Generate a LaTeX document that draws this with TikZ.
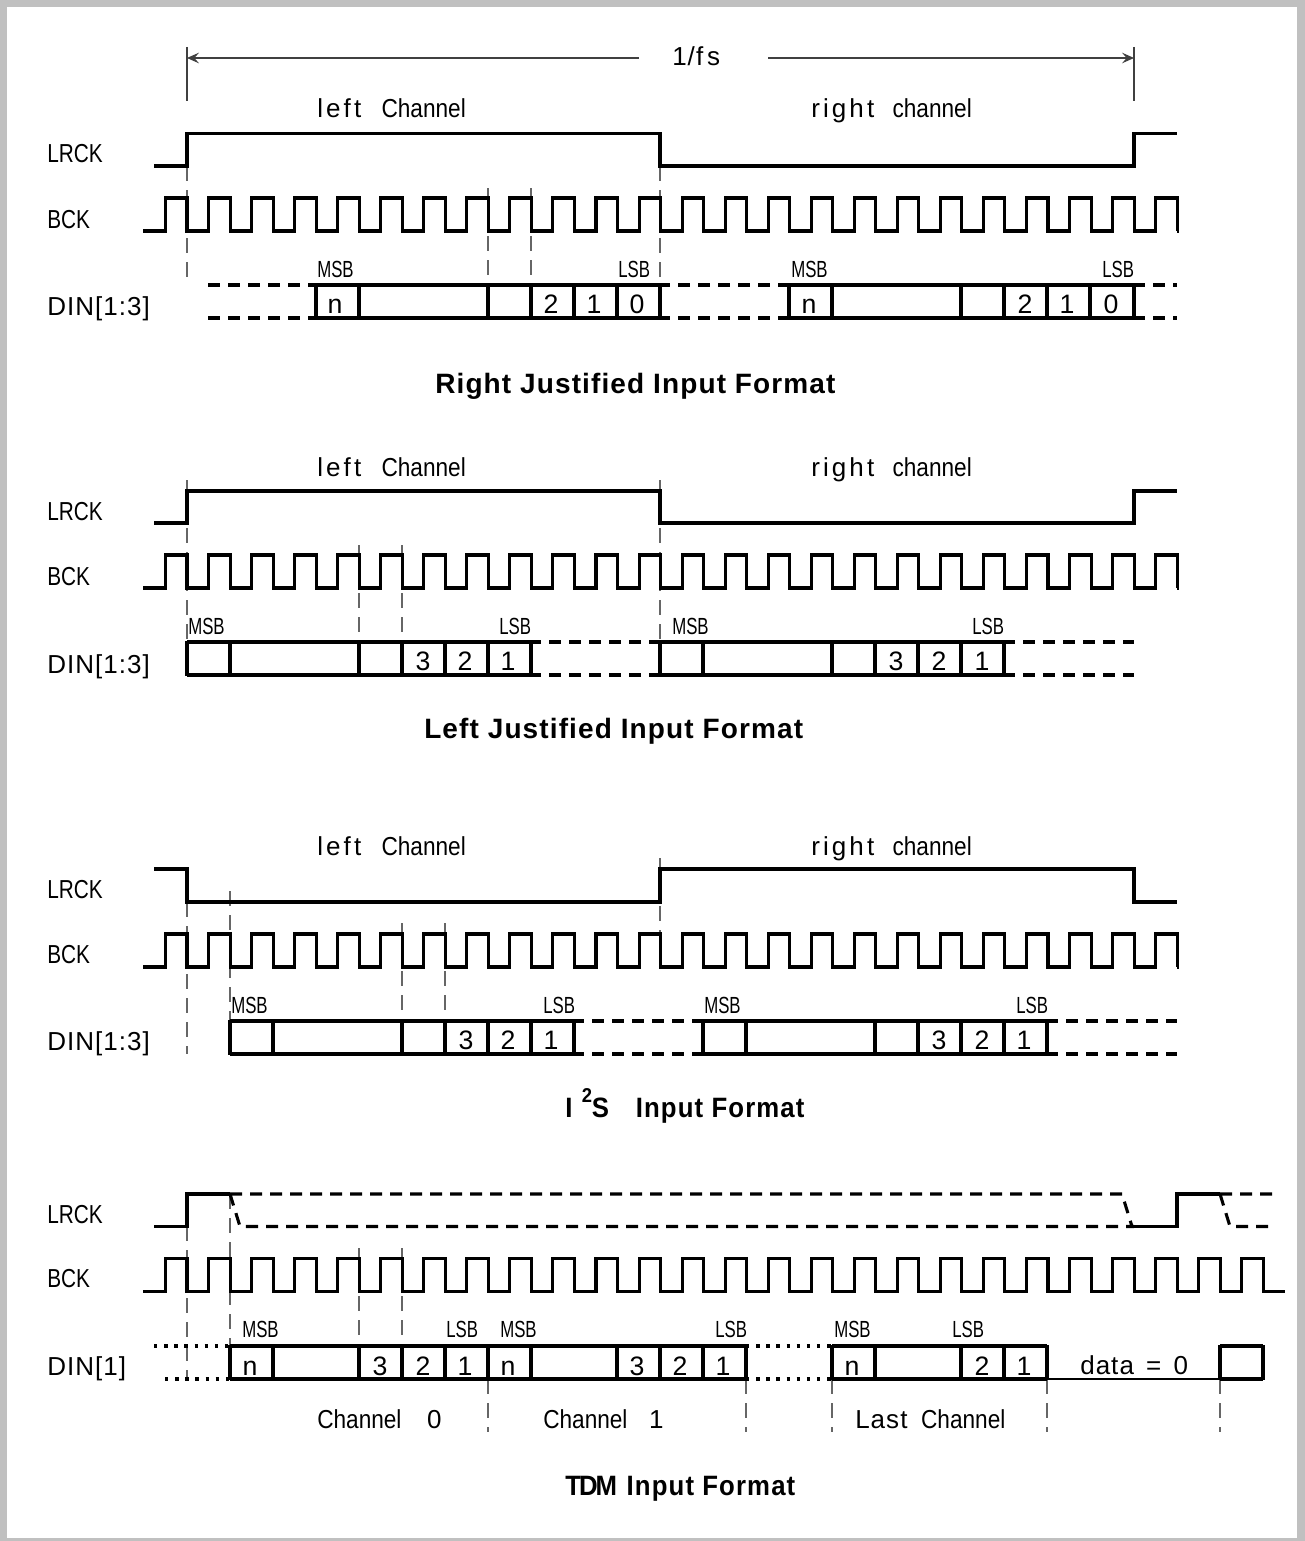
\documentclass[tikz,border=0pt]{standalone}
\usepackage{fontspec}
\usepackage{tikz}
\usetikzlibrary{arrows.meta}
\newfontfamily\sigfont[FakeStretch=0.8]{Liberation Sans}
\newfontfamily\bitfont[FakeStretch=0.72]{Liberation Sans}
\newfontfamily\chanfont[FakeStretch=0.87]{Liberation Sans}
\newfontfamily\widefont[LetterSpace=12]{Liberation Sans}
\newfontfamily\wordfont[LetterSpace=4]{Liberation Sans}
\newfontfamily\tightfont[FakeStretch=0.92,LetterSpace=4]{Liberation Sans}
\definecolor{framegray}{HTML}{C0C0C0}

\tikzset{
    sig/.style={line width=2.3pt, black},
    sigdash/.style={sig, dash pattern=on 9pt off 6pt},
    sigafter/.style={sigdash, dash phase=9pt},
    sigdot/.style={sig, dash pattern=on 2.6pt off 5pt},
    guide/.style={line width=0.8pt, black!60, dash pattern=on 11pt off 7pt},
    pin/.style={inner sep=0pt, anchor=base west, font=\sigfont\fontsize{19.5}{22}\selectfont},
    bitlab/.style={inner sep=0pt, anchor=base west, font=\bitfont\fontsize{17.5}{20}\selectfont},
    word/.style={inner sep=0pt, anchor=base west, font=\wordfont\fontsize{19.5}{22}\selectfont},
    digit/.style={inner sep=0pt, anchor=base, font=\wordfont\fontsize{20}{22}\selectfont},
    heading/.style={inner sep=0pt, anchor=base west, font=\wordfont\bfseries\fontsize{21}{24}\selectfont},
    headingtight/.style={heading, font=\tightfont\bfseries\fontsize{21}{24}\selectfont},
}

\newcommand{\leftchan}{{\widefont left} \hspace{9pt}{\chanfont Channel}}
\newcommand{\rightchan}{{\widefont right} \hspace{7.5pt}{\chanfont channel}}

% #1 high level, #2 number of pulses, #3 end of the tail
\newcommand{\bckwave}[3]{
    \draw[sig, line join=miter] (143,#1+33)
        \foreach \k in {1,...,#2} { -- (165.5+43.05*\k-43.05,#1+33) -- (165.5+43.05*\k-43.05,#1) -- (187+43.05*\k-43.05,#1) -- (187+43.05*\k-43.05,#1+33) }
        -- (#3,#1+33);
}
% #1 x from, #2 x to, #3 top y, #4 ticks
\newcommand{\cellrow}[4]{
    \draw[sig] (#1,#3) -- (#2,#3) (#1,#3+33) -- (#2,#3+33);
    \foreach \x in {#4} \draw[sig] (\x,#3-1) -- (\x,#3+34);
}
\newcommand{\guides}[3]{
    \foreach \x in {#3} \draw[guide] (\x,#1) -- (\x,#2);
}
% #1 baseline, #2 list of x/text
\newcommand{\cellnums}[2]{
    \foreach \x/\t in {#2} \node[digit] (num#1-\x) at (\x,#1) {\t};
}
\newcommand{\bitnames}[2]{
    \foreach \x/\t in {#2} \node[bitlab] (bit#1-\x) at (\x,#1) {\t};
}

\begin{document}
\begin{tikzpicture}[x=0.75pt, y=-0.75pt]
    \useasboundingbox (0,0) rectangle (1305,1541);
    \fill[framegray] (0,0) rectangle (1305,1541);
    \fill[white] (7,7) rectangle (1297,1537.5);

    % right justified
    \coordinate (fsleft) at (187,58);
    \coordinate (fsright) at (1134,58);
    \coordinate (fsgapl) at (639,58);
    \coordinate (fsgapr) at (768,58);
    \node[word] (fs) at (672,66) {1/f\kern3pt s};
    \draw[black!75, line width=0.8pt, >={Stealth[length=9pt,width=8pt,inset=3.5pt]}] (fsgapl) edge[->] (fsleft) (fsgapr) edge[->] (fsright);
    \draw[black!75, line width=0.8pt] (187,47) -- (187,101) (1134,47) -- (1134,101);

    \node[word] (leftA) at (317,118) {\leftchan};
    \node[word] (rightA) at (811,118) {\rightchan};
    \node[pin] (lrckA) at (47,163) {LRCK};
    \node[pin] (bckA) at (47,228) {BCK};
    \node[word] (dinA) at (47,315) {DIN[1:3]};
    \guides{166}{285}{187,660}
    \guides{188}{285}{488,531}
    \draw[sig] (154,166) -- (187,166) -- (187,133.5) -- (660,133.5) -- (660,166) -- (1134,166) -- (1134,133.5) -- (1177,133.5);
    \bckwave{198}{24}{1177}
    \draw[sigdash] (208,285) -- (316,285) (208,318) -- (316,318);
    \draw[sigafter] (670,285) -- (789,285) (670,318) -- (789,318);
    \draw[sigafter] (1145,285) -- (1177,285) (1145,318) -- (1177,318);
    \cellrow{316}{670}{285}{316,359,488,531,574,617,660}
    \cellrow{789}{1145}{285}{789,832,961,1004,1047,1090,1134}
    \cellnums{313}{335/n,551/2,594/1,637/0,809/n,1025/2,1067/1,1111/0}
    \bitnames{277}{317/MSB,618/LSB,791/MSB,1102/LSB}
    \node[heading] (titleA) at (435,393) {Right Justified Input Format};

    % left justified
    \node[word] (leftB) at (317,476) {\leftchan};
    \node[word] (rightB) at (811,476) {\rightchan};
    \node[pin] (lrckB) at (47,520) {LRCK};
    \node[pin] (bckB) at (47,585) {BCK};
    \node[word] (dinB) at (47,673) {DIN[1:3]};
    \guides{480}{642}{187,660}
    \guides{545}{642}{359,402}
    \draw[sig] (154,523) -- (187,523) -- (187,491) -- (660,491) -- (660,523) -- (1134,523) -- (1134,491) -- (1177,491);
    \bckwave{555}{24}{1177}
    \draw[sigafter] (541,642) -- (660,642) (541,675) -- (660,675);
    \draw[sigafter] (1015,642) -- (1134,642) (1015,675) -- (1134,675);
    \cellrow{187}{541}{642}{187,230,359,402,445,488,531}
    \cellrow{660}{1015}{642}{660,703,832,875,918,961,1004}
    \cellnums{670}{423/3,465/2,508/1,896/3,939/2,982/1}
    \bitnames{634}{188/MSB,499/LSB,672/MSB,972/LSB}
    \node[heading] (titleB) at (424,738) {Left Justified Input Format};

    % i2s
    \node[word] (leftC) at (317,855) {\leftchan};
    \node[word] (rightC) at (811,855) {\rightchan};
    \node[pin] (lrckC) at (47,898) {LRCK};
    \node[pin] (bckC) at (47,963) {BCK};
    \node[word] (dinC) at (47,1050) {DIN[1:3]};
    \guides{902}{1054}{187}
    \guides{891}{1021}{230}
    \guides{923}{1021}{402,445}
    \guides{858}{934}{660}
    \draw[sig] (154,869) -- (187,869) -- (187,902) -- (660,902) -- (660,869) -- (1134,869) -- (1134,902) -- (1177,902);
    \bckwave{934}{24}{1177}
    \draw[sigafter] (584,1021) -- (703,1021) (584,1054) -- (703,1054);
    \draw[sigafter] (1058,1021) -- (1177,1021) (1058,1054) -- (1177,1054);
    \cellrow{230}{584}{1021}{230,273,402,445,488,531,574}
    \cellrow{703}{1058}{1021}{703,746,875,918,961,1004,1047}
    \cellnums{1049}{466/3,508/2,551/1,939/3,982/2,1024/1}
    \bitnames{1013}{231/MSB,543/LSB,704/MSB,1016/LSB}
    \node[headingtight] (titleC) at (565,1117) {I\hspace{7pt}\raisebox{11pt}{\fontsize{15}{15}\selectfont 2}S\hspace{20pt}Input Format};

    % tdm
    \node[pin] (lrckD) at (47,1223) {LRCK};
    \node[pin] (bckD) at (47,1287) {BCK};
    \node[word] (dinD) at (47,1375) {DIN[1]};
    \guides{1226}{1379}{187}
    \guides{1194}{1346}{230}
    \guides{1248}{1346}{359,402}
    \guides{1379}{1432}{488,746,832,1047,1220}
    \draw[sig] (154,1226.5) -- (187,1226.5) -- (187,1194) -- (230,1194);
    \draw[sigdash] (230,1194) -- (1122,1194) -- (1132,1226.5) (230,1194) -- (240,1226.5) -- (1134,1226.5);
    \draw[sig] (1134,1226.5) -- (1177,1226.5) -- (1177,1194) -- (1220,1194);
    \draw[sigdash] (1220,1194) -- (1275,1194) (1220,1194) -- (1230,1226.5) -- (1275,1226.5);
    \bckwave{1258.5}{26}{1285}
    \draw[sigdot] (154,1346) -- (230,1346) (165,1379) -- (230,1379);
    \draw[sigdot] (746,1346) -- (832,1346) (746,1379) -- (832,1379);
    \cellrow{230}{746}{1346}{230,273,359,402,445,488,531,617,660,703,746}
    \cellrow{832}{1047}{1346}{832,875,961,1004,1047}
    \draw[sig, line width=1.8pt] (1047,1379) -- (1220,1379);
    \cellrow{1220}{1263}{1346}{1220,1263}
    \cellnums{1375}{250/n,380/3,423/2,465/1,508/n,637/3,680/2,723/1,852/n,982/2,1024/1}
    \bitnames{1337}{242/MSB,446/LSB,500/MSB,715/LSB,834/MSB,952/LSB}
    \node[word] (zeroD) at (1080,1374) {data \hspace{3pt}= \hspace{3pt}0};
    \node[word] (chanZero) at (317,1428) {{\chanfont Channel} \hspace{13pt}0};
    \node[word] (chanOne) at (543,1428) {{\chanfont Channel} \hspace{10pt}1};
    \node[word] (chanLast) at (855,1428) {Last \hspace{4pt}{\chanfont Channel}};
    \node[headingtight] (titleD) at (565,1495) {T\kern-1.5pt D\kern-1.5pt M\hspace{1pt} Input Format};
\end{tikzpicture}
\end{document}
